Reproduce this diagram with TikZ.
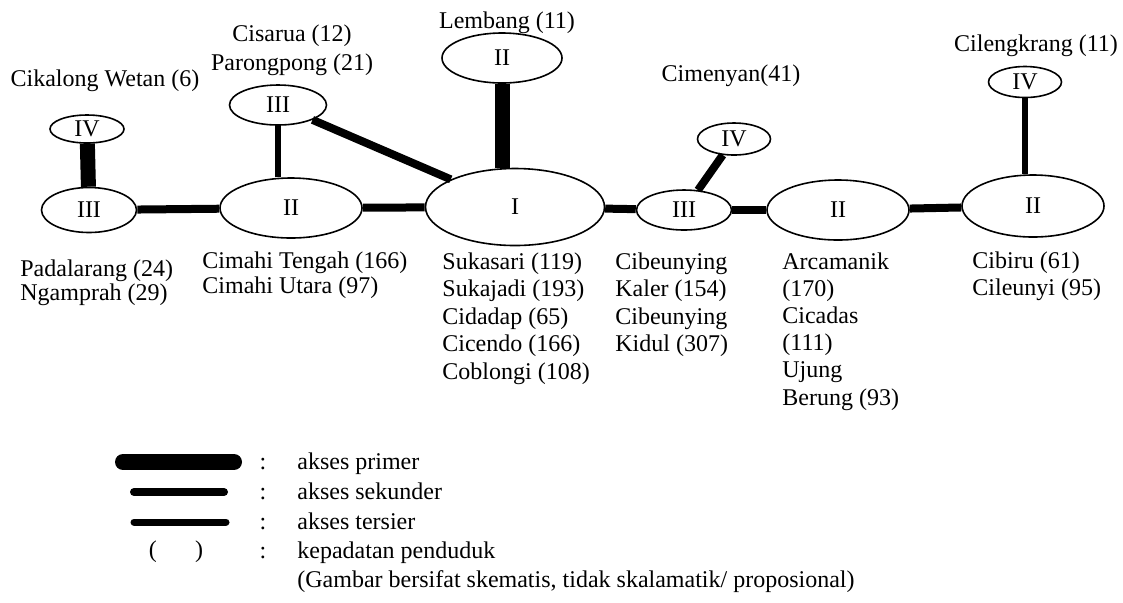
\documentclass[tikz,border=0pt]{standalone}
\usepackage{fontspec}
\setmainfont{Liberation Serif}
\usetikzlibrary{shapes.geometric}
\begin{document}
\begin{tikzpicture}[x=0.5pt,y=-0.5pt,
  font=\fontsize{12}{13.75}\selectfont,
  zone/.style={draw,ellipse,line width=0.8pt,inner sep=0pt},
  primary/.style={line width=7.5pt},
  secondary/.style={line width=4pt},
  tertiary/.style={line width=3.3pt},
  lbl/.style={inner sep=0pt,text height=0.68em,text depth=0pt},
  block/.style={inner sep=0pt,align=left,anchor=north west}]
\useasboundingbox (0,0) rectangle (1123,602);
% zones
\node[zone,minimum width=37pt,minimum height=14pt] (cik) at (87,129) {IV};
\node[zone,minimum width=47.5pt,minimum height=22.5pt] (pad) at (89,210) {III};
\node[zone,minimum width=71pt,minimum height=30pt] (cim) at (291,208) {II};
\node[zone,minimum width=48.5pt,minimum height=20pt] (cis) at (278,105) {III};
\node[zone,minimum width=60pt,minimum height=25pt] (lem) at (502,58) {II};
\node[zone,minimum width=89.5pt,minimum height=38.5pt] (I) at (515,207) {I};
\node[zone,minimum width=47.5pt,minimum height=20pt] (cib) at (684,210) {III};
\node[zone,minimum width=36.5pt,minimum height=16pt] (cmy) at (734,139) {IV};
\node[zone,minimum width=71pt,minimum height=30pt] (arc) at (838,210) {II};
\node[zone,minimum width=71pt,minimum height=31pt] (cbr) at (1033,206) {II};
\node[zone,minimum width=36.5pt,minimum height=15.5pt] (cil) at (1025,82) {IV};
% connectors
\draw[primary] (cik) -- (pad);
\draw[secondary] (pad) -- (cim);
\draw[tertiary] (cis) -- (cis |- cim.north);
\draw[secondary] (cis) -- (I);
\draw[secondary] (cim) -- (I);
\draw[primary] (lem) -- (lem |- I.north);
\draw[secondary] (I) -- (cib);
\draw[secondary] (cib) -- (cmy);
\draw[secondary] (cib) -- (arc);
\draw[secondary] (arc) -- (cbr);
\draw[tertiary] (cil) -- (cil |- cbr.north);
% top labels
\node[lbl] (tcik) at (105,80) {Cikalong Wetan (6)};
\node[inner sep=0pt,align=center,anchor=north,font=\fontsize{12}{14.5}\selectfont] (tcis) at (292,24) {Cisarua (12)\\Parongpong (21)};
\node[lbl] (tlem) at (507,22) {Lembang (11)};
\node[lbl] (tcmy) at (731,75) {Cimenyan(41)};
\node[lbl] (tcil) at (1036,45) {Cilengkrang (11)};
% bottom labels
\node[block,font=\fontsize{12}{12}\selectfont] (bpad) at (20,259) {Padalarang (24)\\Ngamprah (29)};
\node[block,font=\fontsize{12}{12.5}\selectfont] (bcim) at (202,251) {Cimahi Tengah (166)\\Cimahi Utara (97)};
\node[block] (bI) at (442,252) {Sukasari (119)\\Sukajadi (193)\\Cidadap (65)\\Cicendo (166)\\Coblongi (108)};
\node[block] (bcib) at (615,252) {Cibeunying\\Kaler (154)\\Cibeunying\\Kidul (307)};
\node[block,font=\fontsize{12}{13.6}\selectfont] (barc) at (782,252) {Arcamanik\\(170)\\Cicadas\\(111)\\Ujung\\Berung (93)};
\node[block,font=\fontsize{12}{13.5}\selectfont] (bcbr) at (972,251) {Cibiru (61)\\Cileunyi (95)};
% legend
\coordinate (lpa) at (123,462); \coordinate (lpb) at (234,462);
\coordinate (lsa) at (134,492); \coordinate (lsb) at (224,492);
\coordinate (lta) at (134,522); \coordinate (ltb) at (226,522);
\draw[line width=8pt,line cap=round] (lpa) -- (lpb);
\draw[line width=4pt,line cap=round] (lsa) -- (lsb);
\draw[line width=3.5pt,line cap=round] (lta) -- (ltb);
\node[lbl] (lpar) at (176,551) {(\hspace{1.6em})};
\node[lbl] (c1) at (263,463) {:};
\node[lbl] (c2) at (263,493) {:};
\node[lbl] (c3) at (263,523) {:};
\node[lbl] (c4) at (263,552) {:};
\node[lbl,anchor=west] (t1) at (297,463) {akses primer};
\node[lbl,anchor=west] (t2) at (297,493) {akses sekunder};
\node[lbl,anchor=west] (t3) at (297,523) {akses tersier};
\node[lbl,anchor=west] (t4) at (297,552) {kepadatan penduduk};
\node[lbl,anchor=west] (t5) at (297,581) {(Gambar bersifat skematis, tidak skalamatik/ proposional)};
\end{tikzpicture}
\end{document}
